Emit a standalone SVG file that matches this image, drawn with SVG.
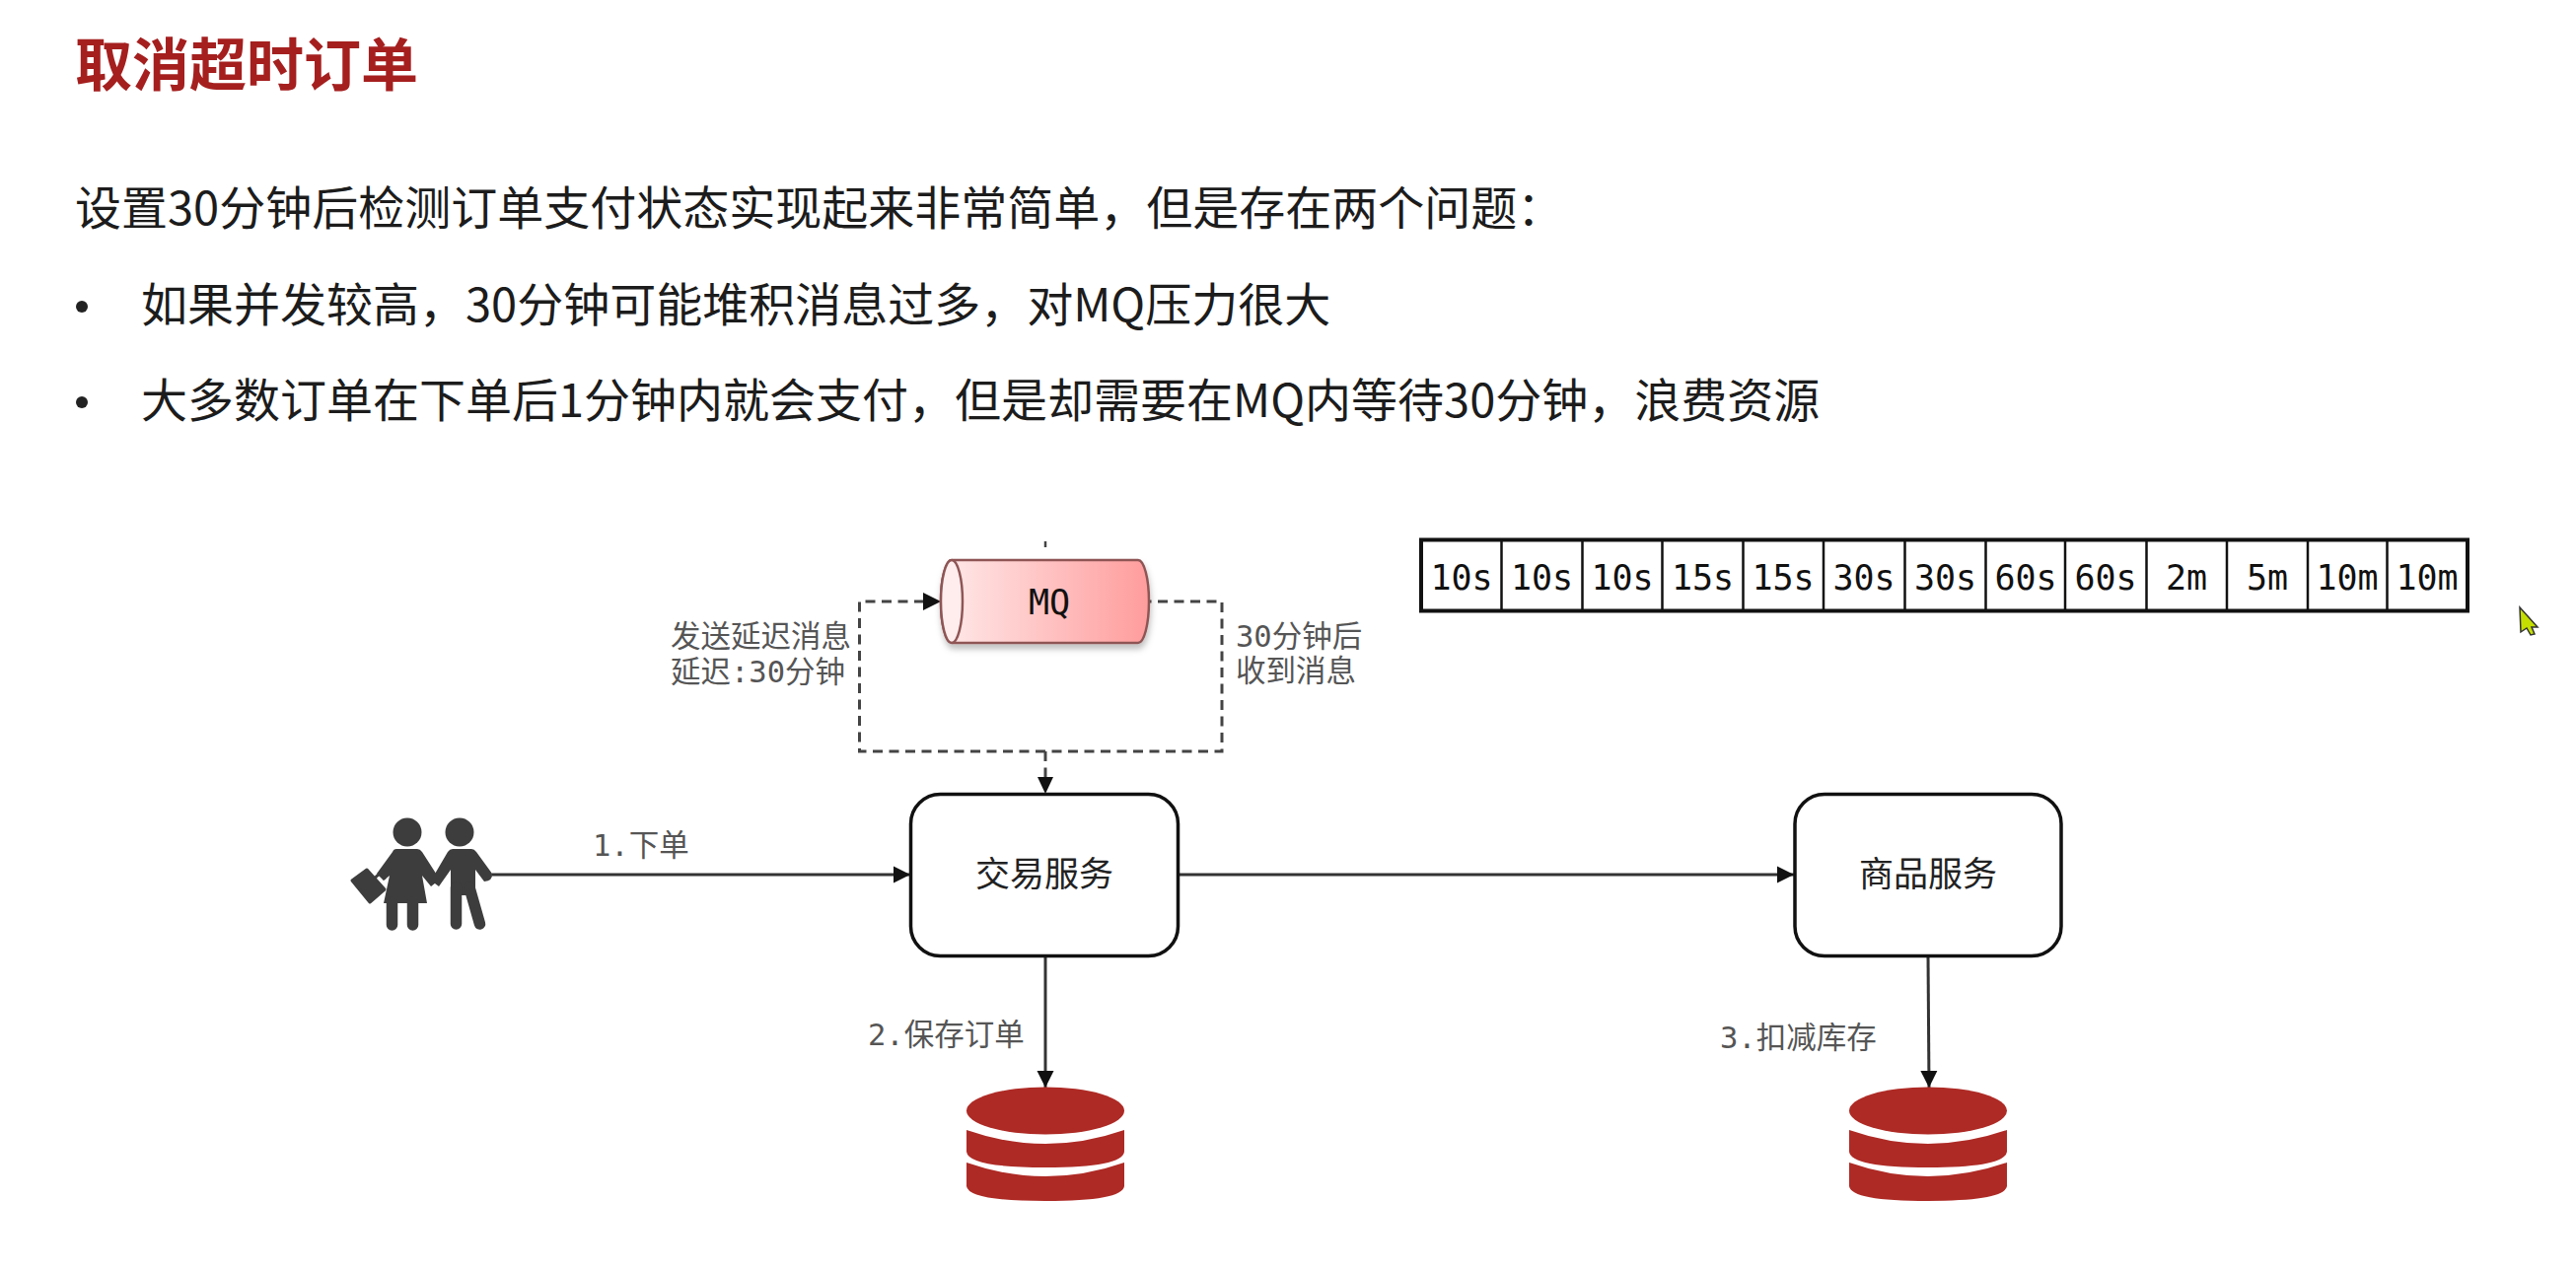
<svg xmlns="http://www.w3.org/2000/svg" width="2612" height="1288" viewBox="0 0 2612 1288">
<style>
.title{font:bold 58px "Noto Sans CJK SC","Noto Sans",sans-serif;fill:#a51f1f}
.body{font:47px "Noto Sans CJK SC","Noto Sans",sans-serif;fill:#1c1c1c}
.lbl{font:30.500px "DejaVu Sans Mono","Noto Sans CJK SC",monospace;fill:#555}
.svc{font:35px "Noto Sans CJK SC","Noto Sans",sans-serif;fill:#222;text-anchor:middle}
.mono{font:35px "DejaVu Sans Mono","Liberation Mono",monospace;fill:#111;text-anchor:middle}
.box{fill:#fff;stroke:#111;stroke-width:3.5}
.conn{fill:none;stroke:#333;stroke-width:3;marker-end:url(#arr)}
.dash{fill:none;stroke:#444;stroke-width:3;stroke-dasharray:10 6.5}
.db{fill:#ae2a25}
.limb{fill:none;stroke:#3d3d3d;stroke-width:11.500;stroke-linecap:round;stroke-linejoin:round}
.cell{fill:none;stroke:#111;stroke-width:2.5}
</style>
<defs>
<marker id="arr" markerUnits="userSpaceOnUse" markerWidth="18" markerHeight="18" refX="17" refY="9" orient="auto"><path d="M0,0.5 L17,9 L0,17.5 Z" fill="#111"/></marker>
<linearGradient id="mqg" x1="0" x2="1" y1="0" y2="0"><stop offset="0" stop-color="#ffeaea"/><stop offset="1" stop-color="#ff9c9c"/></linearGradient>
<filter id="sh" x="-10%" y="-20%" width="120%" height="150%"><feDropShadow dx="1" dy="5" stdDeviation="3" flood-color="#000" flood-opacity="0.25"/></filter>
<g id="dbshape">
<ellipse class="db" cx="0" cy="1126.500" rx="80" ry="24"/>
<path class="db" d="M-80,1146 Q0,1174 80,1146 V1168 Q78,1184 0,1184 Q-78,1184 -80,1168 Z"/>
<path class="db" d="M-80,1179 Q0,1207 80,1179 V1203 Q78,1218 0,1218 Q-78,1218 -80,1203 Z"/>
</g>
</defs>
<rect width="2612" height="1288" fill="#fff"/>

<g id="heading">
<text class="title" x="76" y="87">取消超时订单</text>
<text class="body" x="76" y="228">设置30分钟后检测订单支付状态实现起来非常简单，但是存在两个问题：</text>
<circle cx="83" cy="311" r="6" fill="#222"/>
<text class="body" x="143" y="326">如果并发较高，30分钟可能堆积消息过多，对MQ压力很大</text>
<circle cx="83" cy="408" r="6" fill="#222"/>
<text class="body" x="143" y="423">大多数订单在下单后1分钟内就会支付，但是却需要在MQ内等待30分钟，浪费资源</text>
</g>

<g id="connectors">
<path class="conn" d="M499,887 H923"/>
<path class="conn" d="M1195,887 H1819"/>
<path class="conn" d="M1060,970 V1103"/>
<path class="conn" d="M1955,969 L1956,1103"/>
<path class="dash" d="M937,610 H871.5 V762 H1239 V610 H1166"/>
<path class="dash" d="M1060,762 V790"/>
<path d="M936,601 L954,610 L936,619 Z" fill="#111"/>
<path d="M1052,788 L1060,805 L1068,788 Z" fill="#111"/>
<path d="M1060,549 V555" stroke="#444" stroke-width="2.5" fill="none"/>
</g>

<g id="mq">
<path d="M965,568 H1154 A11,42 0 0 1 1154,652 H965 A11,42 0 0 1 965,568 Z" fill="url(#mqg)" stroke="#8f5555" stroke-width="2.5" filter="url(#sh)"/>
<ellipse cx="965" cy="610" rx="11" ry="42" fill="#ffeded" stroke="#8f5555" stroke-width="2.5"/>
<text class="mono" x="1064" y="623" style="font-size:35px">MQ</text>
</g>

<g id="delay-labels">
<text class="lbl" x="680" y="656">发送延迟消息</text>
<text class="lbl" x="680" y="692">延迟:30分钟</text>
<text class="lbl" x="1253" y="656">30分钟后</text>
<text class="lbl" x="1253" y="691">收到消息</text>
<text class="lbl" x="601" y="868">1.下单</text>
<text class="lbl" x="880" y="1060">2.保存订单</text>
<text class="lbl" x="1744" y="1063">3.扣减库存</text>
</g>

<g id="users">
<circle cx="413" cy="844" r="14.5" fill="#3d3d3d"/>
<circle cx="466" cy="844" r="14.5" fill="#3d3d3d"/>
<path d="M402,861 H423 Q426,861 428,864 L446,892 L437,899 L428,888 L433,916 H389 L395,888 L389,893 L382,886 L398,864 Q399,861 402,861 Z" fill="#3d3d3d"/>
<path class="limb" d="M397.500,915 V938 M418.500,915 V938"/>
<path d="M459,861 H478 Q481,861 483,864 L499,886 Q500,893 491,894 L482,882 V908 H457 V882 L445,899 L437,893 L454,864 Q456,861 459,861 Z" fill="#3d3d3d"/>
<path class="limb" d="M462.500,900 V937 M476,900 L486.500,937"/>
<path d="M357,893 L372,882 L390,902 L375,915 Z" fill="#3d3d3d" stroke="#3d3d3d" stroke-width="3" stroke-linejoin="round"/>
<path d="M380,891 Q386,882 390,892" fill="none" stroke="#3d3d3d" stroke-width="3"/>
</g>

<g id="trade-service">
<rect class="box" x="923.500" y="805.500" width="271" height="164" rx="30"/>
<text class="svc" x="1059" y="899">交易服务</text>
</g>
<g id="goods-service">
<rect class="box" x="1820" y="805.500" width="270" height="164" rx="30"/>
<text class="svc" x="1955" y="899">商品服务</text>
</g>
<g id="db-trade"><use href="#dbshape" x="1060"/></g>
<g id="db-goods"><use href="#dbshape" x="1955"/></g>

<g id="retry-intervals">
<rect x="1441" y="547.500" width="1061" height="72" fill="#fff" stroke="#111" stroke-width="4"/>
<path class="cell" d="M1522.500,547V620M1604.500,547V620M1685.500,547V620M1767.500,547V620M1849,547V620M1931.500,547V620M2013.500,547V620M2094,547V620M2176.500,547V620M2258,547V620M2340,547V620M2420.500,547V620"/>
<text class="mono" x="1482" y="598">10s</text>
<text class="mono" x="1563.500" y="598">10s</text>
<text class="mono" x="1645" y="598">10s</text>
<text class="mono" x="1726.500" y="598">15s</text>
<text class="mono" x="1808" y="598">15s</text>
<text class="mono" x="1890" y="598">30s</text>
<text class="mono" x="1972.500" y="598">30s</text>
<text class="mono" x="2054" y="598">60s</text>
<text class="mono" x="2135" y="598">60s</text>
<text class="mono" x="2217" y="598">2m</text>
<text class="mono" x="2299" y="598">5m</text>
<text class="mono" x="2380" y="598">10m</text>
<text class="mono" x="2461" y="598">10m</text>
</g>

<path id="cursor" d="M2555,616 L2573,636 L2567,636 L2570,643 L2566,644 L2562,637 L2556,641 Z" fill="#c4df00" stroke="#333" stroke-width="1.500"/>
</svg>
